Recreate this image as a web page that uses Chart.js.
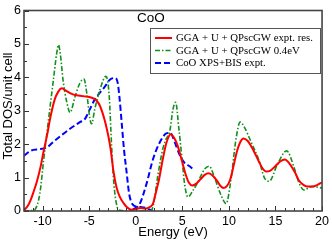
<!DOCTYPE html>
<html>
<head>
<meta charset="utf-8">
<script src="https://cdn.jsdelivr.net/npm/chart.js@4.4.1/dist/chart.umd.min.js"></script>
<style>
  html, body { margin: 0; padding: 0; background: #fff; }
  #wrap { width: 332px; height: 241px; }
</style>
</head>
<body>
<div id="wrap"><canvas id="dos"></canvas></div>
<script>
// energy (eV), DOS pairs
var gwExptRes = [
  [-12, 0.02], [-11.6, 0.15], [-11.3, 0.32], [-11, 0.55], [-10.6, 0.9], [-10.2, 1.35], [-9.9, 1.78],
  [-9.5, 2.3], [-9.2, 2.76], [-8.7, 3.34], [-8.3, 3.58], [-7.95, 3.67], [-7.5, 3.6], [-7, 3.52],
  [-6.5, 3.47], [-6, 3.45], [-5.5, 3.43], [-5, 3.41], [-4.5, 3.36], [-4.2, 3.3], [-3.85, 3.15],
  [-3.3, 2.68], [-2.95, 2.25], [-2.7, 1.85], [-2.4, 1.2], [-2.07, 0.71], [-1.71, 0.42], [-1.35, 0.25],
  [-1.0, 0.13], [-0.5, 0.04], [0, 0.05], [0.5, 0.09], [1.0, 0.07], [1.5, 0.12], [1.85, 0.22],
  [2.2, 0.6], [2.5, 0.95], [2.9, 1.55], [3.3, 2.05], [3.75, 2.3], [4.1, 2.2], [4.5, 1.95], [5.0, 1.45],
  [5.35, 1.1], [5.7, 0.85], [6.06, 0.76], [6.5, 0.82], [6.95, 0.95], [7.4, 1.08], [7.8, 1.13],
  [8.3, 1.05], [8.73, 0.9], [9.1, 0.75], [9.44, 0.69], [9.8, 0.75], [10.15, 0.95], [10.5, 1.35],
  [10.86, 1.78], [11.2, 2.05], [11.57, 2.17], [12.0, 2.1], [12.3, 1.98], [12.8, 1.72], [13.2, 1.49],
  [13.6, 1.28], [14.0, 1.18], [14.4, 1.2], [14.9, 1.32], [15.5, 1.48], [16.0, 1.54], [16.5, 1.42],
  [17.1, 1.15], [17.5, 0.92], [18.0, 0.78], [18.5, 0.73], [18.9, 0.73], [19.5, 0.78], [20, 0.86]
];
var gw04eV = [
  [-12, 0], [-11, 0.02], [-10.8, 0.05], [-10.3, 0.52], [-9.9, 1.5], [-9.4, 2.66], [-8.84, 3.93],
  [-8.5, 4.7], [-8.3, 4.97], [-8.1, 4.7], [-7.8, 3.9], [-7.4, 3.25], [-7.06, 2.95], [-6.5, 3.44],
  [-6.0, 3.83], [-5.56, 3.95], [-5.27, 3.54], [-4.92, 2.76], [-4.74, 2.61], [-4.4, 3.05], [-3.85, 3.63],
  [-3.2, 4.03], [-2.85, 3.44], [-2.6, 1.98], [-2.35, 0.82], [-2.0, 0.13], [-1.7, 0.02], [0, 0],
  [1.5, 0], [1.85, 0.13], [2.39, 1.1], [2.92, 1.88], [3.28, 2.17], [3.64, 2.37], [4.0, 3.05],
  [4.28, 3.25], [4.63, 2.46], [4.99, 1.49], [5.24, 0.81], [5.6, 0.42], [6.13, 0.61], [6.66, 0.86],
  [7.38, 1.25], [7.9, 1.34], [8.45, 1.0], [9.16, 0.47], [9.7, 0.22], [10.2, 0.9], [10.77, 2.17],
  [11.2, 2.66], [11.66, 2.51], [12.37, 2.07], [13.26, 1.49], [13.8, 1.0], [14.33, 0.89], [15.2, 1.39],
  [16.2, 1.8], [17.0, 1.3], [17.5, 0.86], [18.05, 0.63], [18.9, 0.73], [20, 0.69]
];
var xpsExpt = [
  [-12, 1.65], [-11.3, 1.8], [-10.3, 1.85], [-9.55, 1.9], [-8.85, 2.07], [-7.96, 2.27], [-7.06, 2.46],
  [-6.0, 2.66], [-5.45, 2.76], [-4.92, 3.05], [-4.4, 3.34], [-3.85, 3.54], [-3.3, 3.73], [-2.78, 3.93],
  [-2.25, 3.98], [-1.95, 3.85], [-1.75, 3.4], [-1.5, 2.6], [-1.25, 1.8], [-1.0, 1.2], [-0.7, 0.5],
  [-0.35, 0.2], [0, 0.14], [0.5, 0.12], [1.0, 0.1], [1.5, 0.04], [1.8, 0]
];
var bisExpt = [
  [-0.3, 0.05], [0.4, 0.2], [1.14, 0.8], [1.85, 1.55], [2.57, 2.05], [3.28, 2.32], [3.71, 2.34],
  [4.17, 2.07], [4.7, 1.69], [5.24, 1.44], [5.78, 1.34], [6.3, 1.22]
];
var seriesLabels = ['GGA + U + QPscGW expt. res.', 'GGA + U + QPscGW 0.4eV', 'CoO XPS+BIS expt.'];
var xTicks = [-10, -5, 0, 5, 10, 15, 20];
var yTicks = [0, 1, 2, 3, 4, 5, 6];

function pts(arr) {
    return arr.map(function (p) { return { x: p[0], y: p[1] }; });
}

// frame with inward ticks, like the original plot
var framePlugin = {
    id: 'frame',
    afterDatasetsDraw: function (chart) {
        var ctx = chart.ctx, a = chart.chartArea;
        var sx = chart.scales.x, sy = chart.scales.y;
        ctx.save();
        ctx.strokeStyle = '#333';
        ctx.lineWidth = 1;
        ctx.beginPath();
        for (var e = -12; e <= 20; e++) {
            var px = Math.round(sx.getPixelForValue(e)) + 0.5;
            var len = (e % 5 === 0) ? 5 : 3;
            ctx.moveTo(px, a.bottom);
            ctx.lineTo(px, a.bottom - len);
        }
        for (var v = 0; v <= 6; v += 0.5) {
            var py = Math.round(sy.getPixelForValue(v)) + 0.5;
            var l2 = (v % 1 === 0) ? 5 : 3;
            ctx.moveTo(a.left, py);
            ctx.lineTo(a.left + l2, py);
        }
        ctx.stroke();
        ctx.lineWidth = 1.6;
        ctx.strokeStyle = '#444';
        ctx.strokeRect(a.left, a.top, a.right - a.left, a.bottom - a.top);

        ctx.fillStyle = '#000';
        ctx.font = '13.5px "Liberation Sans", Arial, sans-serif';
        ctx.textBaseline = 'middle';
        ctx.textAlign = 'left';
        ctx.fillText('CoO', 137, 18);

        // y axis title
        ctx.save();
        ctx.translate(8, 106);
        ctx.rotate(-Math.PI / 2);
        ctx.textAlign = 'center';
        ctx.font = '13px "Liberation Sans", Arial, sans-serif';
        ctx.fillText('Total DOS/unit cell', 0, 0);
        ctx.restore();
        ctx.restore();
    }
};

var legendPlugin = {
    id: 'boxLegend',
    afterDraw: function (chart) {
        var ctx = chart.ctx;
        var x0 = 150, y0 = 28, w = 170, h = 45;
        ctx.save();
        ctx.fillStyle = '#fff';
        ctx.fillRect(x0, y0, w, h);
        ctx.strokeStyle = '#555';
        ctx.lineWidth = 1;
        ctx.strokeRect(x0 + 0.5, y0 + 0.5, w, h);
        ctx.font = '10.8px "Liberation Serif", "Times New Roman", serif';
        ctx.textBaseline = 'middle';
        ctx.textAlign = 'left';
        for (var i = 0; i < seriesLabels.length; i++) {
            var ds = chart.data.datasets[i];
            var yy = y0 + 10 + i * 12.5;
            ctx.strokeStyle = ds.borderColor;
            ctx.lineWidth = ds.borderWidth;
            ctx.setLineDash(ds.borderDash || []);
            ctx.beginPath();
            ctx.moveTo(x0 + 5, yy);
            ctx.lineTo(x0 + 22, yy);
            ctx.stroke();
            ctx.setLineDash([]);
            ctx.fillStyle = '#000';
            ctx.fillText(seriesLabels[i], x0 + 26, yy + 0.5);
        }
        ctx.restore();
    }
};

var ctx = document.getElementById('dos').getContext('2d');
new Chart(ctx, {
    type: 'line',
    data: {
        datasets: [
            {
                label: seriesLabels[0],
                data: pts(gwExptRes),
                borderColor: '#ff0000',
                borderWidth: 2,
                cubicInterpolationMode: 'monotone'
            },
            {
                label: seriesLabels[1],
                data: pts(gw04eV),
                borderColor: '#11901a',
                borderWidth: 1.6,
                borderDash: [5, 2, 1.5, 2],
                cubicInterpolationMode: 'monotone'
            },
            {
                label: seriesLabels[2],
                data: pts(xpsExpt),
                borderColor: '#0000ff',
                borderWidth: 2,
                borderDash: [6, 3],
                cubicInterpolationMode: 'monotone'
            },
            {
                label: seriesLabels[2],
                data: pts(bisExpt),
                borderColor: '#0000ff',
                borderWidth: 2,
                borderDash: [6, 3],
                cubicInterpolationMode: 'monotone'
            }
        ]
    },
    options: {
        responsive: true,
        maintainAspectRatio: false,
        animation: false,
        elements: { point: { radius: 0 } },
        layout: { padding: { left: 0, top: 6, right: 8, bottom: 0 } },
        scales: {
            x: {
                type: 'linear',
                min: -12,
                max: 20,
                afterBuildTicks: function (s) {
                    s.ticks = xTicks.map(function (v) { return { value: v }; });
                },
                afterFit: function (s) { s.height = 30; },
                grid: { display: false, drawTicks: false },
                border: { display: false },
                ticks: {
                    color: '#000',
                    padding: 3,
                    maxRotation: 0,
                    autoSkip: false,
                    font: { family: 'Liberation Sans', size: 12.5 }
                },
                title: {
                    display: true,
                    text: 'Energy (eV)',
                    color: '#000',
                    font: { family: 'Liberation Sans', size: 13 },
                    padding: { top: 0, bottom: 1 }
                }
            },
            y: {
                min: 0,
                max: 6,
                afterBuildTicks: function (s) {
                    s.ticks = yTicks.map(function (v) { return { value: v }; });
                },
                afterFit: function (s) { s.width = 24; },
                grid: { display: false, drawTicks: false },
                border: { display: false },
                ticks: {
                    color: '#000',
                    padding: 3,
                    font: { family: 'Liberation Sans', size: 12.5 }
                }
            }
        },
        plugins: {
            legend: { display: false },
            tooltip: { enabled: false }
        }
    },
    plugins: [framePlugin, legendPlugin]
});
</script>
</body>
</html>
